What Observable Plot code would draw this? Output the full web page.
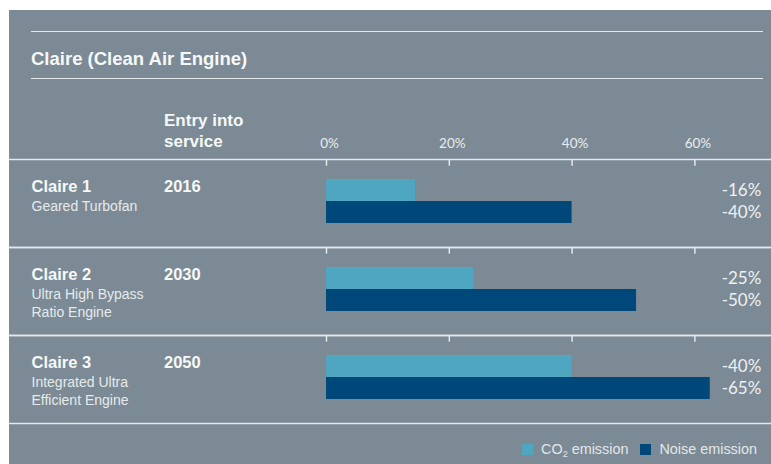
<!DOCTYPE html>
<html>
<head>
<meta charset="utf-8">
<script src="https://cdn.jsdelivr.net/npm/d3@7"></script>
<script src="https://cdn.jsdelivr.net/npm/@observablehq/plot@0.6"></script>
<style>
  body { margin: 0; background: #ffffff; }
  #panel { position: absolute; left: 9px; top: 10px; width: 762px; height: 454px; background: #7b8a94; overflow: hidden; font-family: "Liberation Sans", Arial, sans-serif; }
  .hline { position: absolute; left: 22px; width: 732px; height: 0; border-top: 1.5px solid #e3e8eb; }
  #title { position: absolute; left: 22px; top: 40.3px; font-size: 18.5px; line-height: 18px; font-weight: bold; color: #f6f8f9; white-space: nowrap; }
  #entry { position: absolute; left: 155px; top: 100px; font-size: 17px; line-height: 21px; font-weight: bold; color: #f6f8f9; white-space: nowrap; }
  #legend { position: absolute; right: 14px; top: 429px; height: 20px; display: flex; align-items: center; font-size: 14.4px; color: #e2e7ea; white-space: nowrap; }
  #legend .sw { width: 11px; height: 11px; margin-right: 8px; }
  #legend .item { display: flex; align-items: center; }
  #legend sub { font-size: 9px; vertical-align: -3px; line-height: 0; }
  #chart { position: absolute; left: 0; top: 0; }
</style>
</head>
<body>
<div id="panel">
  <div class="hline" style="top:20.5px"></div>
  <div class="hline" style="top:67.5px"></div>
  <div id="title"></div>
  <div id="entry"></div>
  <div id="chart"></div>
  <div id="legend"></div>
</div>
<script>
// ---- data ----
const chartTitle = "Claire (Clean Air Engine)";
const entryHeader = ["Entry into", "service"];
const engines = ["Claire 1", "Claire 2", "Claire 3"];
const subtitles = ["Geared Turbofan", "Ultra High Bypass\nRatio Engine", "Integrated Ultra\nEfficient Engine"];
const entryYears = ["2016", "2030", "2050"];
const co2Bar = [14.5, 24, 40];        // bar lengths as drawn (%)
const noiseBar = [40, 50.5, 62.5];    // bar lengths as drawn (%)
const co2Labels = ["-16%", "-25%", "-40%"];
const noiseLabels = ["-40%", "-50%", "-65%"];
const xTicks = [0, 20, 40, 60];
const seriesNames = ["CO2", "Noise"];
const seriesColors = ["#4fa6c1", "#00487a"];
const legendLabels = ["CO<sub>2</sub> emission", "Noise emission"];

// ---- derived tables ----
const rows = [];
engines.forEach((e, i) => {
  rows.push({engine: e, series: "CO2", value: co2Bar[i], label: co2Labels[i]});
  rows.push({engine: e, series: "Noise", value: noiseBar[i], label: noiseLabels[i]});
});
const info = engines.map((e, i) => ({engine: e, subtitle: subtitles[i], year: entryYears[i]}));

// ---- html text ----
document.getElementById("title").textContent = chartTitle;
document.getElementById("entry").innerHTML = entryHeader.join("<br>");
document.getElementById("legend").innerHTML = seriesNames.map((s, i) =>
  `<div class="item" style="margin-left:${i ? 12 : 0}px"><div class="sw" style="background:${seriesColors[i]}"></div><span>${legendLabels[i]}</span></div>`
).join("");

// ---- plot ----
const W = 762, H = 454, mL = 317, mR = 15.2, mT = 148, mB = 41;
const facetH = (H - mT - mB) / engines.length;
const lineColor = "#e3e8eb";
const light = "Lato, 'Liberation Sans', sans-serif";

const plot = Plot.plot({
  width: W,
  height: H,
  marginTop: mT,
  marginBottom: mB,
  marginLeft: mL,
  marginRight: mR,
  style: {background: "transparent", overflow: "visible", fontFamily: "'Liberation Sans', Arial, sans-serif"},
  x: {domain: [0, 70]},
  y: {domain: seriesNames, paddingInner: 0, paddingOuter: 0.962, align: 0.46, axis: null},
  fy: {domain: engines, padding: 0, axis: null},
  color: {domain: seriesNames, range: seriesColors},
  marks: [
    Plot.frame({anchor: "top", stroke: lineColor, strokeWidth: 1.5, insetLeft: -mL, insetRight: -mR}),
    Plot.frame({anchor: "bottom", stroke: lineColor, strokeWidth: 1.5, insetLeft: -mL, insetRight: -mR}),
    Plot.ruleX(xTicks, {x: d => d, stroke: lineColor, strokeWidth: 1.5, insetBottom: facetH - 7}),
    Plot.barX(rows, {x: "value", y: "series", fy: "engine", fill: "series"}),
    Plot.text(rows, {y: "series", fy: "engine", text: "label", frameAnchor: "right", textAnchor: "end", dx: 5, fill: "#eef1f3", fontSize: 17, fontFamily: light, fontWeight: 400}),
    Plot.text(info, {fy: "engine", text: "engine", frameAnchor: "top-left", textAnchor: "start", lineAnchor: "bottom", dx: -295, dy: 32.5, fill: "#f6f8f9", fontSize: 16.5, fontWeight: "bold"}),
    Plot.text(info, {fy: "engine", text: "year", frameAnchor: "top-left", textAnchor: "start", lineAnchor: "bottom", dx: -162.5, dy: 32.5, fill: "#f6f8f9", fontSize: 16.5, fontWeight: "bold"}),
    Plot.text(info, {fy: "engine", text: "subtitle", frameAnchor: "top-left", textAnchor: "start", lineAnchor: "top", lineHeight: 18 / 14, dx: -295, dy: 38.7, fill: "#e6eaed", fontSize: 14}),
    Plot.axisX({anchor: "top", ticks: xTicks, tickSize: 0, tickPadding: 12, tickFormat: d => d + "%", dx: 3, fill: "#e9edef", fontSize: 13.5, fontFamily: light, fontWeight: 400, label: null})
  ]
});
document.getElementById("chart").appendChild(plot);
</script>
</body>
</html>
